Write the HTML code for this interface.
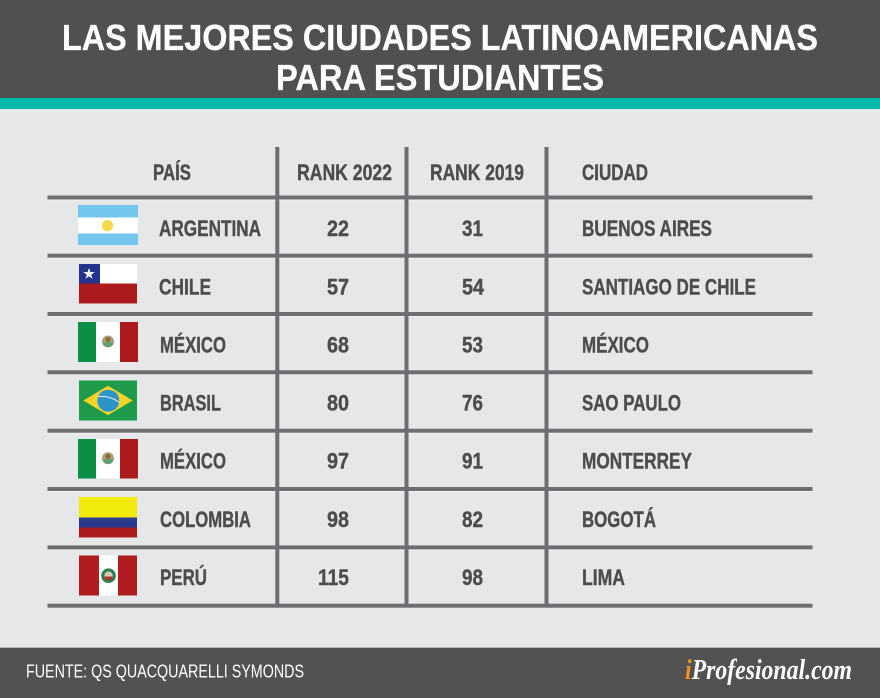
<!DOCTYPE html>
<html lang="es">
<head>
<meta charset="utf-8">
<title>Las mejores ciudades latinoamericanas para estudiantes</title>
<style>
html,body{margin:0;padding:0;background:#e6e7e8;}
svg{display:block;}
text{font-family:"Liberation Sans",sans-serif;}
.t{font-size:36.5px;font-weight:700;fill:#fff;stroke:#fff;stroke-width:.3px;}
.c{font-size:22px;font-weight:700;fill:#4d4d4f;stroke:#4d4d4f;stroke-width:.4px;}
</style>
</head>
<body>
<svg width="880" height="698" viewBox="0 0 880 698" xmlns="http://www.w3.org/2000/svg">
<rect width="880" height="698" fill="#e6e7e8"/>
<g>
<rect width="880" height="98" fill="#505050"/>
<rect y="98" width="880" height="11" fill="#00b9a6"/>
<text class="t" x="62" y="50" textLength="756" lengthAdjust="spacingAndGlyphs">LAS MEJORES CIUDADES LATINOAMERICANAS</text>
<text class="t" x="276" y="90" textLength="328" lengthAdjust="spacingAndGlyphs">PARA ESTUDIANTES</text>
</g>

<g fill="#f3f4f4">
<rect x="47.5" y="199.5" width="765" height="1"/>
<rect x="47.5" y="257.7" width="765" height="1"/>
<rect x="47.5" y="316" width="765" height="1"/>
<rect x="47.5" y="374.3" width="765" height="1"/>
<rect x="47.5" y="432.7" width="765" height="1"/>
<rect x="47.5" y="491" width="765" height="1"/>
<rect x="47.5" y="549.4" width="765" height="1"/>
</g>
<g fill="#6d6e71">
<rect x="47.5" y="195.5" width="765" height="4"/>
<rect x="47.5" y="253.7" width="765" height="4"/>
<rect x="47.5" y="312" width="765" height="4"/>
<rect x="47.5" y="370.3" width="765" height="4"/>
<rect x="47.5" y="428.7" width="765" height="4"/>
<rect x="47.5" y="487" width="765" height="4"/>
<rect x="47.5" y="545.4" width="765" height="4"/>
<rect x="47.5" y="603.7" width="765" height="4"/>
<rect x="275.3" y="147" width="4" height="460"/>
<rect x="404.5" y="147" width="4" height="460"/>
<rect x="544.5" y="147" width="4" height="460"/>
</g>

<g>
<text class="c" x="153" y="180" textLength="38" lengthAdjust="spacingAndGlyphs">PAÍS</text>
<text class="c" x="297" y="180" textLength="95" lengthAdjust="spacingAndGlyphs">RANK 2022</text>
<text class="c" x="430" y="180" textLength="94" lengthAdjust="spacingAndGlyphs">RANK 2019</text>
<text class="c" x="582" y="180" textLength="66" lengthAdjust="spacingAndGlyphs">CIUDAD</text>
</g>

<g>
<g>
<rect x="78" y="205" width="60" height="40" fill="#74c6ee"/>
<rect x="78" y="217.5" width="60" height="16" fill="#fff"/>
<circle cx="107.5" cy="225.7" r="5.6" fill="#f5d94a"/>
</g>
<text class="c" x="159" y="236" textLength="102" lengthAdjust="spacingAndGlyphs">ARGENTINA</text>
<text class="c" x="327" y="236" textLength="22" lengthAdjust="spacingAndGlyphs">22</text>
<text class="c" x="462" y="236" textLength="21" lengthAdjust="spacingAndGlyphs">31</text>
<text class="c" x="582" y="236" textLength="130" lengthAdjust="spacingAndGlyphs">BUENOS AIRES</text>
</g>

<g>
<g>
<rect x="79" y="264" width="58" height="19.5" fill="#fff"/>
<rect x="79" y="283.5" width="58" height="20" fill="#ac1a1e"/>
<rect x="79" y="264" width="21" height="19.5" fill="#24348c"/>
<polygon points="89,268 90.4,272.1 94.7,272.1 91.2,274.7 92.5,278.8 89,276.3 85.5,278.8 86.8,274.7 83.3,272.1 87.6,272.1" fill="#fff"/>
</g>
<text class="c" x="159" y="294.3" textLength="52" lengthAdjust="spacingAndGlyphs">CHILE</text>
<text class="c" x="327" y="294.3" textLength="22" lengthAdjust="spacingAndGlyphs">57</text>
<text class="c" x="462" y="294.3" textLength="22" lengthAdjust="spacingAndGlyphs">54</text>
<text class="c" x="582" y="294.3" textLength="174" lengthAdjust="spacingAndGlyphs">SANTIAGO DE CHILE</text>
</g>

<g>
<g>
<rect x="78" y="322" width="18" height="40" fill="#0b8f47"/>
<rect x="96" y="322" width="24" height="40" fill="#fff"/>
<rect x="120" y="322" width="18" height="40" fill="#ac1a1e"/>
<circle cx="108" cy="341.5" r="6" fill="#a9a27a"/>
<path d="M102.5 342.5a5.6 5.6 0 0 0 11 0z" fill="#5e9f73"/>
<circle cx="108" cy="339.5" r="2.6" fill="#8d6a3a"/>
</g>
<text class="c" x="160" y="352.5" textLength="66" lengthAdjust="spacingAndGlyphs">MÉXICO</text>
<text class="c" x="327" y="352.5" textLength="22" lengthAdjust="spacingAndGlyphs">68</text>
<text class="c" x="462" y="352.5" textLength="21" lengthAdjust="spacingAndGlyphs">53</text>
<text class="c" x="582" y="352.5" textLength="67" lengthAdjust="spacingAndGlyphs">MÉXICO</text>
</g>

<g>
<g>
<rect x="79" y="380.5" width="58" height="40" fill="#1d9a4a"/>
<polygon points="83.3,400.5 108,385.7 132.7,400.5 108,415.2" fill="#f5d327"/>
<circle cx="108.3" cy="400.7" r="11" fill="#2c95c8"/>
<path d="M98 396.5q12-1 21.5 6" fill="none" stroke="#e6f3f8" stroke-width="1"/>
</g>
<text class="c" x="160" y="410.7" textLength="61" lengthAdjust="spacingAndGlyphs">BRASIL</text>
<text class="c" x="327" y="410.7" textLength="22" lengthAdjust="spacingAndGlyphs">80</text>
<text class="c" x="462" y="410.7" textLength="21" lengthAdjust="spacingAndGlyphs">76</text>
<text class="c" x="582" y="410.7" textLength="99" lengthAdjust="spacingAndGlyphs">SAO PAULO</text>
</g>

<g>
<g>
<rect x="78" y="439" width="18" height="39.5" fill="#0b8f47"/>
<rect x="96" y="439" width="24" height="39.5" fill="#fff"/>
<rect x="120" y="439" width="18" height="39.5" fill="#ac1a1e"/>
<circle cx="108" cy="458.3" r="6" fill="#a9a27a"/>
<path d="M102.5 459.3a5.6 5.6 0 0 0 11 0z" fill="#5e9f73"/>
<circle cx="108" cy="456.3" r="2.6" fill="#8d6a3a"/>
</g>
<text class="c" x="160" y="468.5" textLength="66" lengthAdjust="spacingAndGlyphs">MÉXICO</text>
<text class="c" x="327" y="468.5" textLength="22" lengthAdjust="spacingAndGlyphs">97</text>
<text class="c" x="462" y="468.5" textLength="21" lengthAdjust="spacingAndGlyphs">91</text>
<text class="c" x="582" y="468.5" textLength="110" lengthAdjust="spacingAndGlyphs">MONTERREY</text>
</g>

<g>
<g>
<rect x="79" y="497" width="58" height="20.5" fill="#f2ea0a"/>
<rect x="79" y="517.5" width="58" height="10" fill="#2b3a8f"/>
<rect x="79" y="527.5" width="58" height="10" fill="#ac1a1e"/>
</g>
<text class="c" x="160" y="527" textLength="91" lengthAdjust="spacingAndGlyphs">COLOMBIA</text>
<text class="c" x="327" y="527" textLength="22" lengthAdjust="spacingAndGlyphs">98</text>
<text class="c" x="462" y="527" textLength="21" lengthAdjust="spacingAndGlyphs">82</text>
<text class="c" x="582" y="527" textLength="74" lengthAdjust="spacingAndGlyphs">BOGOTÁ</text>
</g>

<g>
<g>
<rect x="79" y="555.5" width="20" height="40" fill="#b01c20"/>
<rect x="99" y="555.5" width="19" height="40" fill="#fff"/>
<rect x="118" y="555.5" width="19" height="40" fill="#b01c20"/>
<circle cx="108.5" cy="575.7" r="7.3" fill="#2c7f4c"/>
<circle cx="108.5" cy="575.7" r="4.2" fill="#d9c9b5"/>
<path d="M104.5 576.5h8a4 4 0 0 1-8 0z" fill="#b8322d"/>
</g>
<text class="c" x="160" y="585" textLength="47" lengthAdjust="spacingAndGlyphs">PERÚ</text>
<text class="c" x="318" y="585" textLength="31" lengthAdjust="spacingAndGlyphs">115</text>
<text class="c" x="462" y="585" textLength="21" lengthAdjust="spacingAndGlyphs">98</text>
<text class="c" x="582" y="585" textLength="43" lengthAdjust="spacingAndGlyphs">LIMA</text>
</g>

<g>
<rect y="647" width="880" height="1" fill="#b5b6b8"/>
<rect y="648" width="880" height="50" fill="#525252"/>
<text x="26" y="677.5" font-size="18" fill="#fff" textLength="278" lengthAdjust="spacingAndGlyphs">FUENTE: QS QUACQUARELLI SYMONDS</text>
<text x="685" y="679" font-size="28" font-style="italic" font-weight="700" fill="#fff" textLength="167" lengthAdjust="spacingAndGlyphs" style="font-family:'Liberation Serif',serif"><tspan fill="#f0931e">i</tspan>Profesional.com</text>
</g>
</svg>
</body>
</html>
